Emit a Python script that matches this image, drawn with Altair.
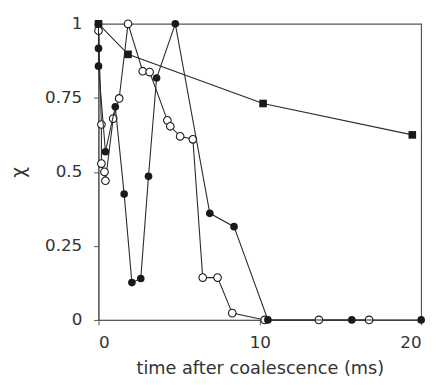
import altair as alt
import pandas as pd

# squares
sq_x = [0, 1.83, 10.2, 19.45]
sq_y = [1.0, 0.897, 0.731, 0.625]

# filled circles
fc_x = [0, 0, 0, 0.43, 1.04, 1.59, 2.07, 2.62, 3.1, 3.6, 4.76, 6.9, 8.4, 10.5, 15.7, 20]
fc_y = [1.0, 0.917, 0.857, 0.568, 0.72, 0.425, 0.126, 0.14, 0.485, 0.817, 1.0, 0.36, 0.315, 0, 0, 0]

# open circles
oc_x = [0, 0.18, 0.18, 0.37, 0.43, 0.91, 1.28, 1.83, 2.74, 3.17, 4.27, 4.45, 5.06, 5.85,
        6.46, 7.38, 8.29, 10.3, 13.66, 16.77]
oc_y = [0.977, 0.66, 0.528, 0.50, 0.47, 0.68, 0.748, 1.0, 0.84, 0.837, 0.674, 0.654, 0.62, 0.61,
        0.143, 0.143, 0.023, 0, 0, 0]

x_ticks = [0, 10, 20]
y_ticks = [0, 0.25, 0.5, 0.75, 1]

def frame(xs, ys):
    return pd.DataFrame({"t": xs, "chi": ys, "i": list(range(len(xs)))})

FONT = "DejaVu Sans"
LINE = "#2a2a2a"

xenc = alt.X("t:Q", scale=alt.Scale(domain=[0, 20], nice=False),
             axis=alt.Axis(values=x_ticks, title="time after coalescence (ms)",
                           labelExpr="'' + datum.value"))
yenc = alt.Y("chi:Q", scale=alt.Scale(domain=[0, 1], nice=False),
             axis=alt.Axis(values=y_ticks, title="χ", labelExpr="'' + datum.value"))

def series(df, shape, filled, size):
    base = alt.Chart(df).encode(x=xenc, y=yenc, order=alt.Order("i:Q"))
    line = base.mark_line(color=LINE, strokeWidth=1.1)
    pts = base.mark_point(shape=shape, filled=filled, size=size,
                          color="#1a1a1a", fill="#1a1a1a" if filled else "white",
                          opacity=1, strokeWidth=1.1)
    return line + pts

chart = alt.layer(
    series(frame(oc_x, oc_y), "circle", False, 60),
    series(frame(fc_x, fc_y), "circle", True, 60),
    series(frame(sq_x, sq_y), "square", True, 60),
).properties(
    width=328, height=301,
    autosize=alt.AutoSizeParams(type="none"),
    padding={"left": 92, "top": 13, "right": 10, "bottom": 60},
).configure_view(
    stroke="#555555", strokeWidth=1.2
).configure_axis(
    grid=False, domainColor="#555555", tickColor="#555555", tickSize=5,
    labelFont=FONT, titleFont=FONT, labelFontSize=17, titleFontSize=18,
    labelColor="#333333", titleColor="#333333", titleFontWeight="normal"
).configure_axisY(
    titlePadding=16, titleFontSize=19, labelPadding=12
).configure_axisX(
    titlePadding=9, labelPadding=10
)

chart.save("out.html", embed_options={"renderer": "svg", "actions": False})
